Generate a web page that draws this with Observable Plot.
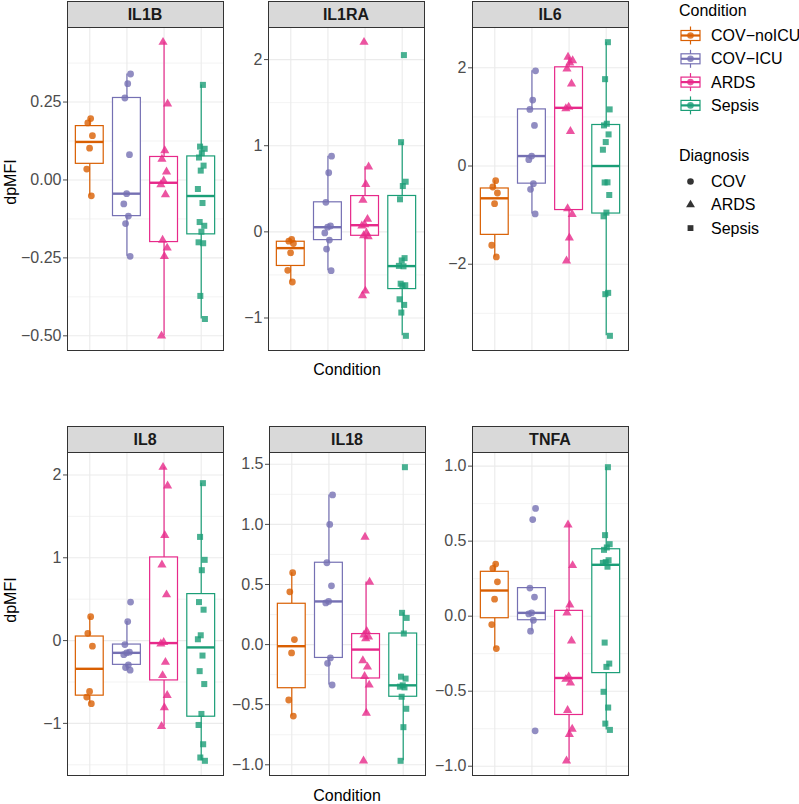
<!DOCTYPE html>
<html>
<head>
<meta charset="utf-8">
<script src="https://cdn.jsdelivr.net/npm/d3@7"></script>
<script src="https://cdn.jsdelivr.net/npm/@observablehq/plot@0.6"></script>
<style>
  body { margin: 0; background: #fff; }
  #root { position: relative; width: 799px; height: 804px; overflow: hidden; background: #fff;
          font-family: "Liberation Sans", Arial, Helvetica, sans-serif; }
  .strip { position: absolute; box-sizing: border-box; background: #D9D9D9; border: 1px solid #333;
           font-weight: bold; font-size: 16px; color: #1A1A1A; text-align: center; }
  .panel { position: absolute; }
  #overlay { position: absolute; left: 0; top: 0; pointer-events: none; }
</style>
</head>
<body>
<div id="root"></div>
<script>
// ---------- data ----------
const conditions = ["COV-noICU", "COV-ICU", "ARDS", "Sepsis"];
const conditionLabels = ["COV\u2212noICU", "COV\u2212ICU", "ARDS", "Sepsis"];
const conditionDiagnosis = ["COV", "COV", "ARDS", "Sepsis"];
const diagnoses = ["COV", "ARDS", "Sepsis"];
const colors = ["#D95F02", "#7570B3", "#E7298A", "#1B9E77"];

const IL1B_noICU  = [0.197, 0.183, 0.142, 0.102, 0.035, -0.051];
const IL1B_ICU    = [0.340, 0.309, 0.263, 0.081, -0.044, -0.077, -0.116, -0.140, -0.245];
const IL1B_ARDS   = [0.442, 0.244, 0.094, 0.067, 0.026, -0.003, -0.015, -0.047, -0.193, -0.218, -0.245, -0.500];
const IL1B_Sepsis = [0.305, 0.107, 0.100, 0.086, 0.072, 0.046, 0.030, -0.029, -0.074, -0.135, -0.147, -0.166, -0.200, -0.203, -0.372, -0.446];

const IL1RA_noICU  = [-0.089, -0.108, -0.135, -0.243, -0.447, -0.582];
const IL1RA_ICU    = [0.879, 0.686, 0.343, 0.069, 0.054, -0.012, -0.096, -0.200, -0.451];
const IL1RA_ARDS   = [2.202, 0.756, 0.551, 0.370, 0.147, 0.085, 0.069, -0.012, -0.043, -0.054, -0.686, -0.740];
const IL1RA_Sepsis = [2.052, 1.041, 0.582, 0.532, 0.378, -0.305, -0.332, -0.395, -0.400, -0.602, -0.620, -0.625, -0.783, -0.848, -0.937, -1.207];

const IL6_noICU  = [-0.298, -0.427, -0.549, -0.766, -1.614, -1.851];
const IL6_ICU    = [1.939, 1.342, 1.153, 0.827, 0.203, 0.129, -0.359, -0.475, -0.976];
const IL6_ARDS   = [2.217, 2.149, 2.100, 1.980, 1.675, 1.200, 1.170, 0.705, -0.868, -0.983, -1.464, -1.932];
const IL6_Sepsis = [2.522, 1.769, 1.153, 0.861, 0.827, 0.644, 0.488, 0.332, -0.332, -0.335, -0.590, -0.949, -1.024, -2.583, -2.610, -3.458];

const IL8_noICU  = [0.289, 0.088, -0.068, -0.614, -0.682, -0.762];
const IL8_ICU    = [0.465, 0.229, -0.048, -0.140, -0.148, -0.170, -0.293, -0.325, -0.357];
const IL8_ARDS   = [2.094, 1.869, 1.272, 0.915, 0.554, -0.020, -0.040, -0.261, -0.421, -0.662, -0.810, -1.035];
const IL8_Sepsis = [1.901, 1.252, 0.975, 0.850, 0.465, 0.373, 0.064, 0.016, -0.181, -0.369, -0.525, -0.886, -1.019, -1.252, -1.412, -1.452];

const IL18_noICU  = [0.598, 0.439, 0.042, -0.069, -0.461, -0.595];
const IL18_ICU    = [1.245, 1.000, 0.681, 0.489, 0.359, 0.347, -0.111, -0.156, -0.336];
const IL18_ARDS   = [0.895, 0.520, 0.110, 0.080, 0.065, 0.050, -0.133, -0.186, -0.264, -0.336, -0.570, -0.967];
const IL18_Sepsis = [1.476, 0.264, 0.222, 0.092, -0.267, -0.283, -0.339, -0.350, -0.356, -0.434, -0.534, -0.687, -0.967];

const TNFA_noICU  = [0.347, 0.318, 0.229, 0.113, -0.056, -0.216];
const TNFA_ICU    = [0.718, 0.644, 0.187, 0.127, 0.022, 0.015, -0.027, -0.100, -0.764];
const TNFA_ARDS   = [0.609, 0.338, 0.076, 0.022, -0.164, -0.404, -0.420, -0.444, -0.627, -0.753, -0.787, -0.964];
const TNFA_Sepsis = [0.993, 0.540, 0.480, 0.458, 0.442, 0.373, 0.360, 0.355, 0.330, -0.176, -0.316, -0.338, -0.504, -0.609, -0.716, -0.758];

// y-axis tick values (labels) per facet
const IL1B_ticks  = [-0.5, -0.25, 0, 0.25];
const IL1RA_ticks = [-1, 0, 1, 2];
const IL6_ticks   = [-2, 0, 2];
const IL8_ticks   = [-1, 0, 1, 2];
const IL18_ticks  = [-1, -0.5, 0, 0.5, 1, 1.5];
const TNFA_ticks  = [-1, -0.5, 0, 0.5, 1];

const yTitle = "dpMFI";
const xTitle = "Condition";

// ---------- layout ----------
const FONT = '"Liberation Sans", Arial, Helvetica, sans-serif';
const PW = 156, PH = 323, ML = 62, MT = 2, MR = 2, MB = 2;

const panels = [
  {name: "IL1B",  groups: [IL1B_noICU, IL1B_ICU, IL1B_ARDS, IL1B_Sepsis],     ticks: IL1B_ticks,  fmt: ".2f", left: 67,  top: 27},
  {name: "IL1RA", groups: [IL1RA_noICU, IL1RA_ICU, IL1RA_ARDS, IL1RA_Sepsis], ticks: IL1RA_ticks, fmt: "d",   left: 268, top: 27},
  {name: "IL6",   groups: [IL6_noICU, IL6_ICU, IL6_ARDS, IL6_Sepsis],         ticks: IL6_ticks,   fmt: "d",   left: 472, top: 27},
  {name: "IL8",   groups: [IL8_noICU, IL8_ICU, IL8_ARDS, IL8_Sepsis],         ticks: IL8_ticks,   fmt: "d",   left: 67,  top: 452},
  {name: "IL18",  groups: [IL18_noICU, IL18_ICU, IL18_ARDS, IL18_Sepsis],     ticks: IL18_ticks,  fmt: ".1f", left: 269, top: 452},
  {name: "TNFA",  groups: [TNFA_noICU, TNFA_ICU, TNFA_ARDS, TNFA_Sepsis],     ticks: TNFA_ticks,  fmt: ".1f", left: 472, top: 452}
];

const root = document.getElementById("root");

function jitter(k, g) {
  return (((k + 1) * 0.6180339887 + g * 0.37) % 1 - 0.5) * 0.2;
}

for (const p of panels) {
  const data = [];
  p.groups.forEach((vals, gi) => vals.forEach((v, k) =>
    data.push({cond: conditions[gi], diag: conditionDiagnosis[gi], xi: gi + 1, jit: jitter(k, gi), y: v})));
  const stats = p.groups.map((vals, gi) => {
    const s = vals.slice().sort(d3.ascending);
    const q1 = d3.quantileSorted(s, 0.25), med = d3.quantileSorted(s, 0.5), q3 = d3.quantileSorted(s, 0.75);
    const iqr = q3 - q1;
    const lo = d3.min(s.filter(v => v >= q1 - 1.5 * iqr));
    const hi = d3.max(s.filter(v => v <= q3 + 1.5 * iqr));
    return {cond: conditions[gi], xi: gi + 1, q1, med, q3, lo, hi};
  });
  const [mn, mx] = d3.extent(data, d => d.y);
  const pad = (mx - mn) * 0.05;
  const domain = [mn - pad, mx + pad];
  const step = p.ticks[1] - p.ticks[0];
  const minor = [];
  for (let i = -1; i < p.ticks.length; i++) {
    const m = p.ticks[0] + (i + 0.5) * step;
    if (m > domain[0] && m < domain[1]) minor.push(m);
  }
  const svg = Plot.plot({
    width: ML + PW + MR, height: MT + PH + MB,
    marginLeft: ML, marginRight: MR, marginTop: MT, marginBottom: MB,
    style: {background: "transparent", overflow: "visible", fontFamily: FONT, fontSize: "16px"},
    x: {domain: [0.4, 4.6], axis: null},
    y: {domain, axis: null},
    color: {domain: conditions, range: colors},
    symbol: {domain: diagnoses, range: ["circle", "triangle", "square"]},
    marks: [
      Plot.ruleY(minor, {stroke: "#EBEBEB", strokeWidth: 0.6}),
      Plot.ruleY(p.ticks, {stroke: "#EBEBEB", strokeWidth: 1.1}),
      Plot.ruleX([1, 2, 3, 4], {stroke: "#EBEBEB", strokeWidth: 1.1}),
      Plot.ruleX(stats, {x: "xi", y1: "q3", y2: "hi", stroke: "cond", strokeWidth: 1.2}),
      Plot.ruleX(stats, {x: "xi", y1: "lo", y2: "q1", stroke: "cond", strokeWidth: 1.2}),
      Plot.rect(stats, {x1: d => d.xi - 0.375, x2: d => d.xi + 0.375, y1: "q1", y2: "q3",
                        fill: "white", stroke: "cond", strokeWidth: 1.2}),
      Plot.ruleY(stats, {y: "med", x1: d => d.xi - 0.375, x2: d => d.xi + 0.375, stroke: "cond", strokeWidth: 2.4}),
      Plot.dot(data, {x: d => d.xi + d.jit, y: "y", fill: "cond", symbol: "diag", r: 3.4, fillOpacity: 0.8}),
      Plot.axisY({ticks: p.ticks, tickFormat: d3.format(p.fmt), tickSize: 4, tickPadding: 2,
                  fontSize: 16, color: "#4D4D4D", label: null}),
      Plot.frame({stroke: "#333", strokeWidth: 1})
    ]
  });
  svg.classList.add("panel");
  svg.style.left = (p.left - ML) + "px";
  svg.style.top = (p.top - MT) + "px";
  svg.style.position = "absolute";
  root.appendChild(svg);

  const strip = document.createElement("div");
  strip.className = "strip";
  strip.style.left = (p.left - 0.5) + "px";
  strip.style.top = (p.top - 26) + "px";
  strip.style.width = (PW + 1) + "px";
  strip.style.height = "27px";
  strip.style.lineHeight = "25px";
  strip.textContent = p.name;
  root.appendChild(strip);
}

// ---------- titles and legend ----------
const ov = d3.select(root).append("svg").attr("id", "overlay").attr("width", 799).attr("height", 804)
  .style("font-family", FONT);

[[182], [600]].forEach(([cy]) => {
  ov.append("text").attr("transform", `translate(16,${cy}) rotate(-90)`).attr("text-anchor", "middle")
    .attr("font-size", 16).attr("fill", "#000").text(yTitle);
});
[[369], [795]].forEach(([cy]) => {
  ov.append("text").attr("x", 347).attr("y", cy).attr("dy", "0.35em").attr("text-anchor", "middle")
    .attr("font-size", 16).attr("fill", "#000").text(xTitle);
});

const lg = ov.append("g");
lg.append("text").attr("x", 679).attr("y", 10).attr("dy", "0.35em").attr("font-size", 16).text("Condition");
conditions.forEach((c, i) => {
  const cy = 35.5 + i * 23.3, cx = 690.5, col = colors[i];
  const g = lg.append("g");
  g.append("line").attr("x1", cx).attr("x2", cx).attr("y1", cy - 9).attr("y2", cy + 9).attr("stroke", col).attr("stroke-width", 1.2);
  g.append("rect").attr("x", cx - 9.5).attr("y", cy - 5).attr("width", 19).attr("height", 10)
    .attr("fill", "white").attr("stroke", col).attr("stroke-width", 1.2);
  g.append("line").attr("x1", cx - 9.5).attr("x2", cx + 9.5).attr("y1", cy).attr("y2", cy).attr("stroke", col).attr("stroke-width", 2.2);
  g.append("circle").attr("cx", cx).attr("cy", cy).attr("r", 3.3).attr("fill", col).attr("fill-opacity", 0.8);
  lg.append("text").attr("x", 711).attr("y", cy).attr("dy", "0.35em").attr("font-size", 16).text(conditionLabels[i]);
});
lg.append("text").attr("x", 679).attr("y", 155).attr("dy", "0.35em").attr("font-size", 16).text("Diagnosis");
const symTypes = [d3.symbolCircle, d3.symbolTriangle, d3.symbolSquare];
diagnoses.forEach((d, i) => {
  const cy = 181.5 + i * 23.3;
  lg.append("path").attr("transform", `translate(690.5,${cy})`)
    .attr("d", d3.symbol(symTypes[i], Math.PI * 3.3 * 3.3)())
    .attr("fill", "#000").attr("fill-opacity", 0.8);
  lg.append("text").attr("x", 711).attr("y", cy).attr("dy", "0.35em").attr("font-size", 16).text(d);
});
</script>
</body>
</html>
